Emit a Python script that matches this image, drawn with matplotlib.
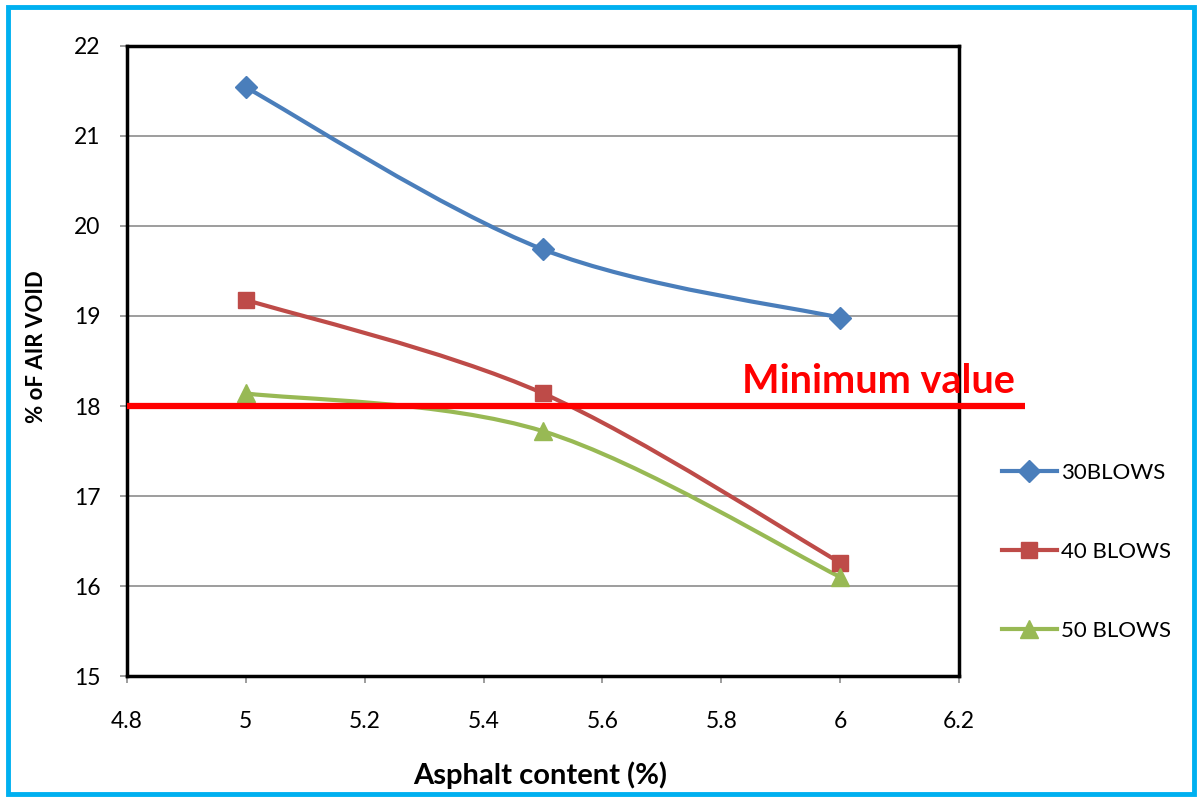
import numpy as np
import matplotlib.pyplot as plt
from matplotlib.path import Path
from matplotlib.patches import PathPatch, Rectangle
from matplotlib.lines import Line2D

asphalt = [5.0, 5.5, 6.0]
blows_30 = [21.54, 19.74, 18.98]
blows_40 = [19.18, 18.14, 16.26]
blows_50 = [18.14, 17.72, 16.10]
labels = ['30BLOWS', '40 BLOWS', '50 BLOWS']
min_value = 18.0


def smooth_path(x, y, tension=1/6):
    # bezier through the points, like spreadsheet "smoothed line"
    pts = np.column_stack([x, y])
    n = len(pts)
    verts = [pts[0]]
    codes = [Path.MOVETO]
    for i in range(n - 1):
        p0 = pts[i - 1] if i > 0 else pts[i]
        p1, p2 = pts[i], pts[i + 1]
        p3 = pts[i + 2] if i + 2 < n else pts[i + 1]
        c1 = p1 + (p2 - p0) * tension
        c2 = p2 - (p3 - p1) * tension
        verts += [c1, c2, p2]
        codes += [Path.CURVE4] * 3
    return Path(verts, codes)


plt.rcParams['font.family'] = ['Lato', 'DejaVu Sans']

fig = plt.figure(figsize=(11.97, 7.97), dpi=100)
ax = fig.add_axes([0.1061, 0.1518, 0.6951, 0.7905])

series = [
    (blows_30, '#4A7EBB', 'D', 11),
    (blows_40, '#BE4B48', 's', 12),
    (blows_50, '#98B954', '^', 13),
]
handles = []
for (vals, color, marker, ms), lab in zip(series, labels):
    ax.add_patch(PathPatch(smooth_path(asphalt, vals), facecolor='none',
                           edgecolor=color, lw=3, zorder=3, capstyle='round'))
    ax.plot(asphalt, vals, ls='none', marker=marker, ms=ms, color=color, zorder=4)
    handles.append(Line2D([], [], color=color, lw=3, marker=marker, ms=ms))

# minimum requirement line, running past the plot area
ax.plot([4.8, 6.311], [min_value, min_value], color='#FF0000', lw=4.5,
        clip_on=False, zorder=5, solid_capstyle='butt')
ax.text(5.835, 18.15, 'Minimum value', color='#FF0000', fontsize=28.5,
        fontweight='bold', va='baseline', ha='left', clip_on=False, zorder=6)

ax.set_xlim(4.8, 6.2)
ax.set_ylim(15, 22)
ax.set_xticks(np.arange(4.8, 6.21, 0.2))
ax.set_xticklabels(['4.8', '5', '5.2', '5.4', '5.6', '5.8', '6', '6.2'])
ax.set_yticks(range(15, 23))
ax.yaxis.grid(True, color='#8C8C8C', lw=1.2)
ax.set_axisbelow(True)
ax.tick_params(labelsize=16.5, length=5, width=1.2, color='#8C8C8C')
ax.tick_params(axis='y', pad=14)
ax.tick_params(axis='x', pad=20)
for side in ['top', 'right', 'left', 'bottom']:
    ax.spines[side].set_color('black')
    ax.spines[side].set_linewidth(2.5)

fig.text(0.451, 0.0276, 'Asphalt content (%)', fontsize=21, fontweight='bold',
         ha='center', va='center')
fig.text(0.0305, 0.5646, '% oF AIR VOID', fontsize=16, fontweight='bold',
         rotation=90, ha='center', va='center')

fig.legend(handles, labels, loc='center left', bbox_to_anchor=(0.837, 0.3074),
           frameon=False, fontsize=16, handlelength=2.48, handletextpad=0.18,
           labelspacing=2.66, borderpad=0, borderaxespad=0)

fig.patches.append(Rectangle((0.0067, 0.004), 0.991, 0.987, transform=fig.transFigure,
                             fill=False, edgecolor='#00B0F0', lw=3.5))

fig.savefig('out.png', dpi=100)
